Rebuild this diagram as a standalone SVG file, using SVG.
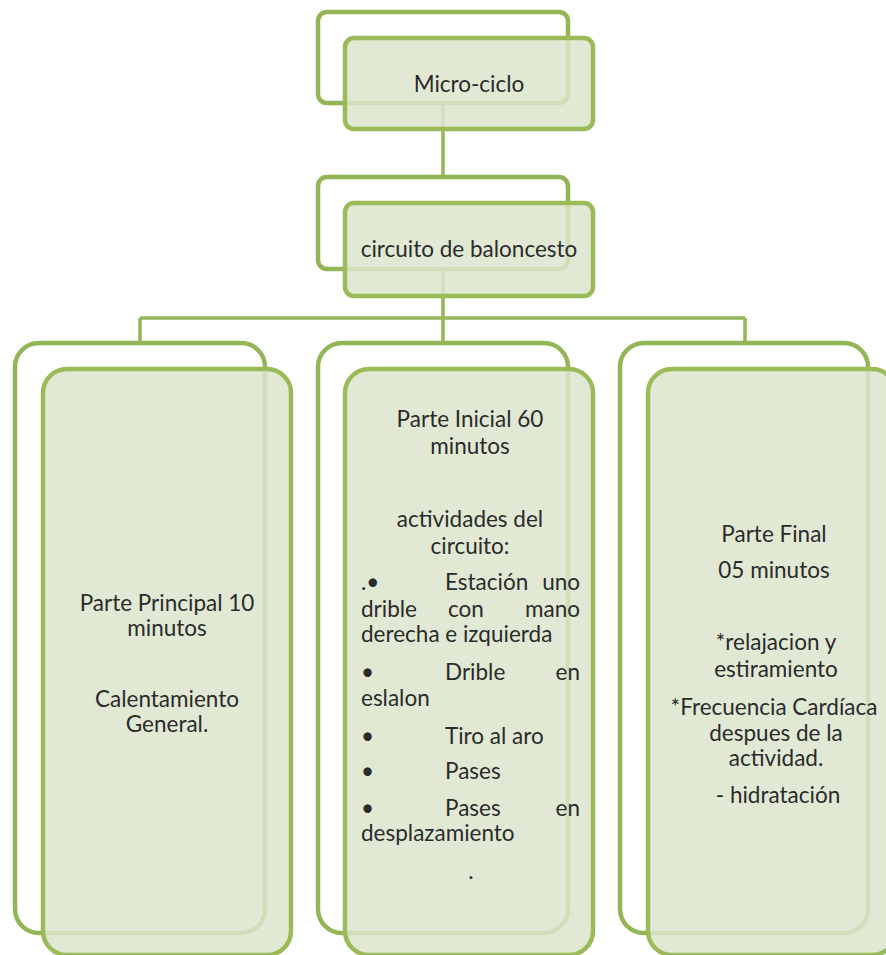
<svg xmlns="http://www.w3.org/2000/svg" width="886" height="955" viewBox="0 0 886 955">
<style>
.back{fill:#ffffff;stroke:#92b556;stroke-width:4.5}
.front{fill:#dce5cc;fill-opacity:0.85;stroke:#9bbb59;stroke-width:4.5}
.conn{stroke:#94b757;stroke-width:3.5;fill:none}
text{font-family:Lato,"Liberation Sans",sans-serif;font-size:22.5px;fill:#2b2b2b}
.c{text-anchor:middle}
.e{text-anchor:end}
</style>
<rect width="886" height="955" fill="#ffffff"/>
<g id="connectors">
<line class="conn" x1="443" y1="103" x2="443" y2="178"/>
<path class="conn" d="M443 269 V318 M140 318 H745 M140 318 V343 M443 318 V343 M745 318 V343"/>
</g>
<g id="node-microciclo">
<rect class="back" x="318" y="12" width="250" height="91" rx="9"/>
<rect class="front" x="345" y="38" width="248" height="91" rx="9"/>
<text class="c" x="469" y="92">Micro-ciclo</text>
</g>
<g id="node-circuito">
<rect class="back" x="318" y="177" width="250" height="92" rx="9"/>
<rect class="front" x="345" y="203" width="248" height="93" rx="9"/>
<text class="c" x="469" y="257">circuito de baloncesto</text>
</g>
<g id="node-principal">
<rect class="back" x="15" y="343" width="250" height="590" rx="24"/>
<rect class="front" x="43" y="369" width="248" height="586" rx="24"/>
<text class="c" x="167" y="611">Parte Principal 10</text>
<text class="c" x="167" y="636">minutos</text>
<text class="c" x="167" y="707">Calentamiento</text>
<text class="c" x="167" y="732">General.</text>
</g>
<g id="node-inicial">
<rect class="back" x="318" y="343" width="250" height="590" rx="24"/>
<rect class="front" x="345" y="369" width="248" height="586" rx="24"/>
<text class="c" x="470" y="427">Parte Inicial 60</text>
<text class="c" x="470" y="454">minutos</text>
<text class="c" x="470" y="527">actividades del</text>
<text class="c" x="470" y="554">circuito:</text>
<text x="361" y="590">.•</text>
<text x="445" y="590">Estación</text>
<text class="e" x="580" y="590">uno</text>
<text x="361" y="617">drible</text>
<text x="448" y="617">con</text>
<text class="e" x="580" y="617">mano</text>
<text x="361" y="642">derecha e izquierda</text>
<text x="361" y="680">•</text>
<text x="445" y="680">Drible</text>
<text class="e" x="580" y="680">en</text>
<text x="361" y="706">eslalon</text>
<text x="361" y="744">•</text>
<text x="445" y="744">Tiro al aro</text>
<text x="361" y="779">•</text>
<text x="445" y="779">Pases</text>
<text x="361" y="816">•</text>
<text x="445" y="816">Pases</text>
<text class="e" x="580" y="816">en</text>
<text x="361" y="841">desplazamiento</text>
<text class="c" x="471" y="879">.</text>
</g>
<g id="node-final">
<rect class="back" x="620" y="343" width="248" height="590" rx="24"/>
<rect class="front" x="648" y="369" width="248" height="586" rx="24"/>
<text class="c" x="774" y="542">Parte Final</text>
<text class="c" x="774" y="578">05 minutos</text>
<text class="c" x="776" y="650">*relajacion y</text>
<text class="c" x="776" y="677">estiramiento</text>
<text class="c" x="774" y="715">*Frecuencia Cardíaca</text>
<text class="c" x="776" y="741">despues de la</text>
<text class="c" x="776" y="766">actividad.</text>
<text class="c" x="778" y="803">- hidratación</text>
</g>
</svg>
